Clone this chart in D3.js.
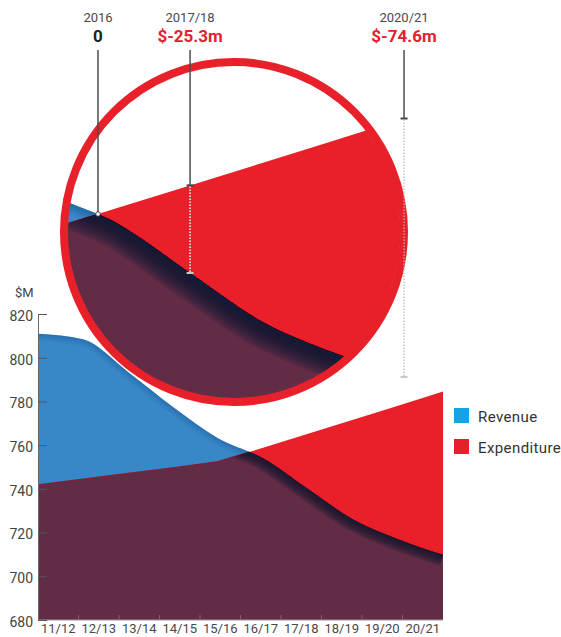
<!DOCTYPE html>
<html>
<head>
<meta charset="utf-8">
<script src="https://cdn.jsdelivr.net/npm/d3@7"></script>
<style>
  body { margin: 0; background: #fff; }
  svg { display: block; }
  text { font-family: Roboto, "Noto Sans", sans-serif; }
</style>
</head>
<body>
<svg id="chart" width="561" height="637"></svg>
<script>
// Financial years on the horizontal axis
const years = ["11/12", "12/13", "13/14", "14/15", "15/16", "16/17", "17/18", "18/19", "19/20", "20/21"];
// Revenue and expenditure, $M
const revenue     = [811.0, 808.4, 793.5, 777.5, 763.2, 754.0, 739.9, 726.0, 717.0, 709.9];
const expenditure = [741.8, 744.4, 747.0, 749.6, 752.4, 758.8, 765.2, 771.6, 778.0, 784.5];
// Vertical axis ticks, $M
const yTicks = [680, 700, 720, 740, 760, 780, 800, 820];
// Call-outs above the magnifier: break-even point, then two forecast years
const calloutLabels  = ["2016", "2017/18", "2020/21"];
const calloutPeriods = [null, "17/18", "20/21"];
const legendLabels = ["Revenue", "Expenditure"];

const BLUE = "#3887c9", RED = "#e92029", MAROON = "#622c46", NAVY = "#121532";
const LEGEND_COLORS = ["#14a3e3", "#e5202a"];

const svg = d3.select("#chart");
const defs = svg.append("defs");

const x = d3.scalePoint().domain(years).range([38, 443]);
const xBand = d3.scaleBand().domain(years).range([38, 443]);
const y = d3.scaleLinear().domain([680, 820]).range([620, 314]);

function generators(xs, ys) {
  const base = ys.range()[0];
  return {
    revArea: d3.area().x((d, i) => xs(years[i])).y0(base).y1(d => ys(d)).curve(d3.curveMonotoneX),
    revLine: d3.line().x((d, i) => xs(years[i])).y(d => ys(d)).curve(d3.curveMonotoneX),
    expArea: d3.area().x((d, i) => xs(years[i])).y0(base).y1(d => ys(d)),
    expLine: d3.line().x((d, i) => xs(years[i])).y(d => ys(d))
  };
}

// Soft edge: nested strokes of growing width, each faint, so the tone
// fades with distance from the line
function softEdge(g, d, color, depth, alpha) {
  for (let i = depth; i >= 1; i--) {
    g.append("path").attr("d", d).attr("fill", "none")
      .attr("stroke", color).attr("stroke-width", 2 * i)
      .attr("stroke-linejoin", "round").attr("stroke-opacity", alpha);
  }
}

// Overlap layers: blue = revenue surplus, red = deficit, maroon = shared part
function drawLayers(g, xs, ys, id, shade) {
  const gen = generators(xs, ys);
  defs.append("clipPath").attr("id", id + "-exp").append("path").attr("d", gen.expArea(expenditure));
  defs.append("clipPath").attr("id", id + "-rev").append("path").attr("d", gen.revArea(revenue));

  g.append("path").attr("d", gen.revArea(revenue)).attr("fill", BLUE);
  softEdge(g.append("g").attr("clip-path", `url(#${id}-rev)`),
    gen.revLine(revenue), "#1b4f8e", shade.blueDepth, 0.05);
  g.append("path").attr("d", gen.expArea(expenditure)).attr("fill", RED);
  g.append("path").attr("d", gen.revArea(revenue)).attr("fill", MAROON).attr("clip-path", `url(#${id}-exp)`);
  g.append("path").attr("d", gen.expLine(expenditure))
    .attr("fill", "none").attr("stroke", "#7c2236").attr("stroke-width", 1.4)
    .attr("clip-path", `url(#${id}-rev)`);
  // dark edge under the falling revenue line
  const sh = g.append("g").attr("clip-path", `url(#${id}-exp)`)
    .append("g").attr("clip-path", `url(#${id}-rev)`);
  softEdge(sh, gen.revLine(revenue), NAVY, shade.depth, shade.alpha);
  return gen;
}

// ---- main chart ----
const main = svg.append("g");
const mainGen = drawLayers(main, x, y, "main", { depth: 12, alpha: 0.13, blueDepth: 7 });

// x axis: baseline, band ticks and labels
main.append("line").attr("x1", 38).attr("x2", 443).attr("y1", y(680)).attr("y2", y(680))
  .attr("stroke", "#9a9a9a").attr("stroke-width", 1);
main.selectAll(".xtick").data(years.slice(1)).join("line")
  .attr("x1", d => xBand(d)).attr("x2", d => xBand(d))
  .attr("y1", y(680)).attr("y2", y(680) - 5)
  .attr("stroke", "#8b5c71").attr("stroke-width", 1);
main.selectAll(".xlabel").data(years).join("text")
  .attr("x", d => xBand(d) + xBand.bandwidth() / 2).attr("y", 633)
  .attr("text-anchor", "middle").attr("font-size", 13).attr("fill", "#4a4a4a")
  .text(d => d);

// y axis
const yAxis = main.append("g").attr("transform", "translate(38,0)")
  .call(d3.axisLeft(y).tickValues(yTicks).tickSize(-9).tickSizeOuter(0).tickPadding(5));
yAxis.select(".domain").attr("stroke", "#6a6a6a");
yAxis.selectAll(".tick line").attr("stroke", "#555");
yAxis.selectAll(".tick text").attr("font-size", 14).attr("fill", "#444")
  .attr("font-family", "Roboto, sans-serif").attr("dy", "0.45em");
main.append("text").attr("x", 15).attr("y", 297).attr("font-size", 13).attr("fill", "#444").text("$M");

// legend
const legend = svg.append("g");
legendLabels.forEach((lab, i) => {
  legend.append("rect").attr("x", 454).attr("y", 408 + i * 31).attr("width", 15).attr("height", 15)
    .attr("fill", LEGEND_COLORS[i]);
  legend.append("text").attr("x", 478).attr("y", 421.5 + i * 31)
    .attr("font-size", 15).attr("letter-spacing", 0.4).attr("fill", "#333").text(lab);
});

// ---- magnifier around the break-even point ----
// locate where the revenue curve meets the expenditure line
const expAt = d3.scaleLinear().domain(years.map(d => x(d))).range(expenditure);
const probe = main.append("path").attr("d", mainGen.revLine(revenue)).attr("fill", "none");
const len = probe.node().getTotalLength();
let crossX = x(years[4]), crossY = y(expenditure[4]);
for (let l = 0; l <= len; l += 0.25) {
  const p = probe.node().getPointAtLength(l);
  if (p.x > x(years[2]) && p.y >= y(expAt(p.x))) { crossX = p.x; crossY = y(expAt(p.x)); break; }
}
probe.remove();

const lens = { cx: 234, cy: 232, r: 170, ring: 8, ax: 98, ay: 214, k: 1.585 };
const zx = v => lens.ax + lens.k * (v - crossX);
const zy = v => lens.ay + lens.k * (v - crossY);
// magnified copies of the chart scales
const xL = d3.scalePoint().domain(years).range(x.range().map(zx));
const yL = d3.scaleLinear().domain(y.domain()).range(y.range().map(zy));

defs.append("clipPath").attr("id", "clip-lens").append("circle")
  .attr("cx", lens.cx).attr("cy", lens.cy).attr("r", lens.r - lens.ring / 2 + 0.5);

const lensG = svg.append("g");
const inner = lensG.append("g").attr("clip-path", "url(#clip-lens)");
inner.append("circle").attr("cx", lens.cx).attr("cy", lens.cy).attr("r", lens.r).attr("fill", "#fff");
drawLayers(inner.append("g"), xL, yL, "lens", { depth: 26, alpha: 0.075, blueDepth: 10 });
lensG.append("circle").attr("cx", lens.cx).attr("cy", lens.cy).attr("r", lens.r)
  .attr("fill", "none").attr("stroke", "#e8202a").attr("stroke-width", lens.ring);

// ---- call-outs ----
const callouts = calloutLabels.map((lab, i) => {
  const p = calloutPeriods[i];
  if (p === null) {
    return { lab, gap: 0, x: zx(crossX), top: zy(crossY), bottom: zy(crossY) };
  }
  const j = years.indexOf(p);
  return {
    lab, gap: revenue[j] - expenditure[j],
    x: xL(p), top: yL(expenditure[j]), bottom: yL(revenue[j])
  };
});
const fmt = d3.format(".1f");
const co = svg.append("g");
callouts.forEach(c => {
  co.append("text").attr("x", c.x).attr("y", 22).attr("text-anchor", "middle")
    .attr("font-size", 13).attr("fill", "#4a4a4a").text(c.lab);
  const zero = Math.abs(c.gap) < 0.05;
  co.append("text").attr("x", c.x).attr("y", 42).attr("text-anchor", "middle")
    .attr("font-size", 17).attr("font-weight", 700)
    .attr("fill", zero ? "#222" : "#e2222d")
    .text(zero ? "0" : "$" + (c.gap < 0 ? "-" : "") + fmt(Math.abs(c.gap)) + "m");
  co.append("line").attr("x1", c.x).attr("x2", c.x).attr("y1", 50).attr("y2", c.top)
    .attr("stroke", "#4d4d4d").attr("stroke-width", 1.5);
  if (zero) {
    co.append("circle").attr("cx", c.x).attr("cy", c.top).attr("r", 2.3)
      .attr("fill", "#fff").attr("stroke", "#444").attr("stroke-width", 1);
  } else {
    co.append("line").attr("x1", c.x - 3.5).attr("x2", c.x + 3.5).attr("y1", c.top).attr("y2", c.top)
      .attr("stroke", "#444").attr("stroke-width", 2);
    co.append("line").attr("x1", c.x).attr("x2", c.x).attr("y1", c.top + 1).attr("y2", c.bottom)
      .attr("stroke", "#b8b8b8").attr("stroke-width", 1.2).attr("stroke-dasharray", "1.5,1.5");
    co.append("line").attr("x1", c.x).attr("x2", c.x).attr("y1", c.top + 1).attr("y2", c.bottom)
      .attr("stroke", "#f4f4f4").attr("stroke-width", 1.2).attr("stroke-dasharray", "1.5,1.5")
      .attr("clip-path", "url(#clip-lens)");
    co.append("line").attr("x1", c.x - 3.5).attr("x2", c.x + 3.5).attr("y1", c.bottom).attr("y2", c.bottom)
      .attr("stroke", "#c9c9c9").attr("stroke-width", 2);
  }
});
</script>
</body>
</html>
